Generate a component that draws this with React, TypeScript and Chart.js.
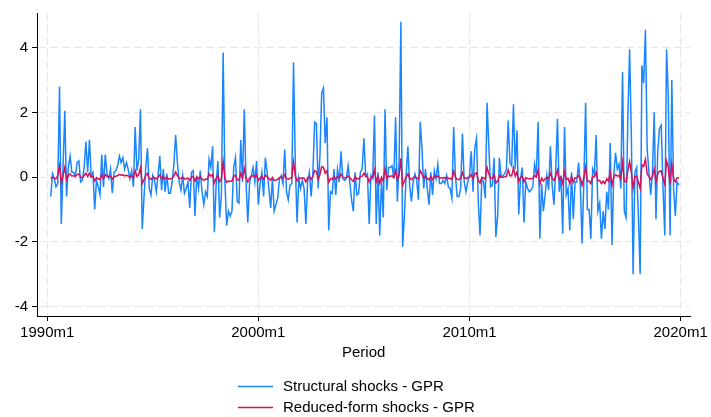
import { useEffect, useRef } from "react";
import { Chart, registerables } from "chart.js";

Chart.register(...registerables);

// Months counted from 1990m1 (= 0); the series start in 1990m3
const startMonth = 2;
const xTickMonths = [0, 120, 240, 360];
const xTickLabels = ["1990m1", "2000m1", "2010m1", "2020m1"];
const yTickValues = [-4, -2, 0, 2, 4];
const seriesNames = ["Structural shocks - GPR", "Reduced-form shocks - GPR"];
const seriesColors = ["#1A85FF", "#D41159"];
const xAxisTitle = "Period";

const structural = [
  // 1990 (Mar-Dec)
  -0.6, 0.1, -0.05, -0.3, -0.2, 2.8, -1.45, 0.3, 2.05, -0.6,
  // 1991
  0.3, 0.65, 0.15, 0.15, 0.05, 0.45, 0.5, -0.15, -0.1, 0.3, 1.1, 0.15,
  // 1992
  1.15, 0.05, 0.15, -1.0, -0.1, -0.3, -0.55, 0.7, -0.3, 0.7, 0.1, -0.05,
  // 1993
  0.25, -0.5, 0.15, 0.2, 0.35, 0.65, 0.45, 0.6, 0.25, 0.45, 0.25, -0.05,
  // 1994
  0.2, -0.3, 1.55, 0.2, 0.55, 2.1, -1.6, -0.65, 0.3, 0.9, -0.35, -0.55,
  // 1995
  0.05, -0.1, -0.45, 0.05, 0.65, -0.4, 0.25, -0.45, 0.1, -0.5, -0.5, -0.15,
  // 1996
  0.4, 1.3, 0.45, -0.15, -0.4, 0.05, -0.5, -0.35, -0.15, -0.95, 0.15, 0.2,
  // 1997
  -1.2, 0.05, -0.35, 0.2, -0.45, -0.85, -0.45, -0.6, 0.55, 0.3, 0.95, -1.7,
  // 1998
  -0.25, 0.5, -1.25, -0.55, 3.85, -0.15, -1.5, -1.05, -1.2, -1.05, 0.3, 0.6,
  // 1999
  -0.75, -0.8, 1.15, -0.15, 2.1, -0.1, -1.4, -0.2, 0.05, 0.3, -0.15, 0.5,
  // 2000
  -0.85, -0.2, 0.15, -0.6, 0.6, 0.15, -0.35, -0.95, -0.05, -1.05, -0.85, -0.65,
  // 2001
  -0.05, 0.05, -0.2, 0.85, -0.45, -0.7, -0.25, -0.2, 3.55, 0.45, -1.4, -0.05,
  // 2002
  -0.35, -0.1, -0.35, -1.45, -0.15, 0.15, -0.6, 0.15, 1.7, 1.65, -0.35, 0.65,
  // 2003
  2.6, 2.75, 1.05, 1.85, -1.65, -0.45, -0.5, 0.25, -0.55, 0.25, -0.15, 0.8,
  // 2004
  -0.05, -0.1, -0.05, 0.35, -0.15, -0.7, -1.05, 0.15, -0.55, -0.5, 0.15, 0.25,
  // 2005
  1.2, 0.05, 0.1, -1.45, 0.05, -0.05, 1.9, -1.45, 0.15, -1.8, -0.05, -1.25,
  // 2006
  2.1, -0.4, 0.3, 0.3, 0.35, -0.05, 1.85, -0.75, 0.45, 4.8, -2.15, -1.2,
  // 2007
  0.05, 0.95, -0.25, -0.75, -0.15, 0.1, -0.1, -0.7, 1.7, 0.9, -0.35, 0.25,
  // 2008
  -0.35, -0.85, 0.15, -0.55, 0.2, -0.05, 0.4, -0.2, -0.2, -0.1, -0.2, 0.05,
  // 2009
  -0.3, -0.35, -0.65, 1.55, 0.05, -0.6, -0.6, -0.35, 1.35, -0.15, -0.45, -0.15,
  // 2010
  0.05, 0.8, -0.45, 0.9, 1.2, -0.75, -1.8, -0.05, -0.15, -0.65, 2.3, 0.95,
  // 2011
  -0.3, -0.25, 0.6, -1.85, -1.2, 0.6, 0.0, 0.05, 0.1, 0.25, 1.75, 0.45,
  // 2012
  0.35, 2.25, 0.25, 1.45, -1.15, -0.05, 0.3, -1.4, -0.15, -0.35, -0.45, -0.4,
  // 2013
  -0.3, 0.4, 0.05, 1.7, -1.9, -0.2, -1.05, -0.55, 0.05, -0.4, 0.95, -0.25,
  // 2014
  -0.85, 0.2, 1.8, -0.45, 0.05, -1.75, 1.55, -0.55, -0.35, -1.65, 0.15, -1.3,
  // 2015
  -0.15, -0.15, 0.45, -0.25, -2.05, -0.15, 2.3, -1.0, -1.0, -1.9, 0.25, 0.1,
  // 2016
  1.3, -1.05, -0.8, -1.9, -1.05, -1.6, -0.45, -1.0, 1.05, -2.1, 0.05, 0.75,
  // 2017
  0.25, 0.4, -0.35, 3.25, -1.05, -1.25, 1.8, 3.95, 1.3, -3.0, 0.15, 0.3,
  // 2018
  -1.2, -3.0, 3.45, 2.9, 4.55, 0.85, 0.15, -0.55, 0.15, 2.0, -1.3, 0.8,
  // 2019
  1.5, 1.6, -0.35, -1.8, 3.95, 2.5, -1.8, 3.0, -0.35, -1.2, -0.15, -0.25,
];

const reducedForm = [
  // 1990 (Mar-Dec)
  -0.05, 0.0, -0.03, -0.05, 0.05, 0.35, -0.18, 0.05, 0.3, -0.08,
  // 1991
  0.05, 0.1, 0.03, 0.05, 0.02, 0.08, 0.1, 0.0, -0.02, 0.05, 0.12, 0.02,
  // 1992
  0.12, 0.0, 0.03, -0.12, -0.02, -0.05, -0.08, 0.08, -0.05, 0.08, 0.02, 0.0,
  // 1993
  0.03, -0.06, 0.02, 0.03, 0.05, 0.08, 0.06, 0.07, 0.04, 0.06, 0.04, 0.0,
  // 1994
  0.03, -0.04, 0.2, 0.02, 0.08, 0.28, -0.2, -0.08, 0.05, 0.12, -0.05, -0.07,
  // 1995
  0.0, -0.02, -0.06, 0.0, 0.07, -0.05, 0.02, -0.06, 0.0, -0.06, -0.06, -0.03,
  // 1996
  0.04, 0.16, 0.05, -0.03, -0.05, 0.0, -0.06, -0.05, -0.03, -0.1, 0.0, 0.02,
  // 1997
  -0.12, 0.0, -0.05, 0.02, -0.06, -0.1, -0.06, -0.07, 0.1, 0.03, 0.08, -0.18,
  // 1998
  -0.04, 0.05, -0.14, -0.06, 0.48, -0.04, -0.16, -0.12, -0.13, -0.12, 0.02, 0.06,
  // 1999
  -0.09, -0.09, 0.12, -0.03, 0.27, -0.02, -0.15, -0.03, 0.02, 0.05, 0.0, 0.06,
  // 2000
  -0.1, -0.03, 0.02, -0.07, 0.06, 0.02, -0.04, -0.1, -0.01, -0.1, -0.09, -0.07,
  // 2001
  -0.02, 0.0, -0.03, 0.08, -0.05, -0.07, -0.03, -0.02, 0.46, 0.04, -0.12, -0.02,
  // 2002
  -0.04, -0.02, -0.04, -0.15, -0.02, 0.02, -0.07, 0.02, 0.2, 0.17, -0.06, 0.08,
  // 2003
  0.32, 0.3, 0.12, 0.2, -0.16, -0.05, -0.06, 0.02, -0.06, 0.02, -0.02, 0.09,
  // 2004
  -0.01, -0.02, -0.01, 0.04, -0.02, -0.08, -0.13, 0.01, -0.06, -0.05, 0.02, 0.03,
  // 2005
  0.12, 0.02, 0.01, -0.15, 0.0, -0.01, 0.22, -0.15, 0.02, -0.19, 0.0, -0.12,
  // 2006
  0.26, -0.04, 0.03, 0.03, 0.04, -0.01, 0.2, -0.08, 0.05, 0.58, -0.26, -0.12,
  // 2007
  0.0, 0.1, -0.03, -0.08, -0.02, 0.01, -0.02, -0.07, 0.2, 0.1, -0.04, 0.02,
  // 2008
  -0.04, -0.09, 0.01, -0.07, 0.03, -0.01, 0.04, -0.03, -0.03, -0.02, -0.03, 0.0,
  // 2009
  -0.04, -0.04, -0.07, 0.18, 0.0, -0.07, -0.07, -0.04, 0.14, -0.02, -0.05, -0.02,
  // 2010
  0.0, 0.08, -0.05, 0.1, 0.13, -0.09, -0.18, -0.01, -0.02, -0.07, 0.3, 0.1,
  // 2011
  -0.04, -0.03, 0.07, -0.18, -0.13, 0.06, 0.0, 0.0, 0.01, 0.03, 0.22, 0.04,
  // 2012
  0.04, 0.28, 0.03, 0.16, -0.14, -0.01, 0.03, -0.15, -0.02, -0.04, -0.05, -0.05,
  // 2013
  -0.04, 0.05, 0.0, 0.22, -0.22, -0.03, -0.12, -0.06, 0.0, -0.05, 0.12, -0.03,
  // 2014
  -0.1, 0.02, 0.22, -0.06, 0.0, -0.2, 0.17, -0.07, -0.04, -0.2, 0.02, -0.15,
  // 2015
  -0.02, -0.02, 0.05, -0.03, -0.25, -0.02, 0.3, -0.12, -0.12, -0.2, 0.03, 0.01,
  // 2016
  0.15, -0.12, -0.1, -0.2, -0.12, -0.2, -0.05, -0.12, 0.14, -0.25, 0.0, 0.08,
  // 2017
  0.03, 0.05, -0.05, 0.45, -0.13, -0.15, 0.2, 0.48, 0.15, -0.35, 0.02, 0.03,
  // 2018
  -0.15, -0.35, 0.38, 0.33, 0.55, 0.1, 0.02, -0.07, 0.02, 0.25, -0.16, 0.1,
  // 2019
  0.18, 0.19, -0.04, -0.22, 0.5, 0.3, -0.22, 0.4, -0.04, -0.15, -0.02, -0.03,
];

const FONT = '"Liberation Sans", Arial, sans-serif';

const legendPlugin = {
  id: "stackedLegend",
  afterDraw(chart: any) {
    const ctx = chart.ctx as CanvasRenderingContext2D;
    ctx.save();
    ctx.font = `15px ${FONT}`;
    ctx.textBaseline = "middle";
    ctx.textAlign = "left";
    const x0 = 238;
    const y0 = 386;
    seriesNames.forEach((name, i) => {
      const y = y0 + i * 21;
      ctx.strokeStyle = seriesColors[i];
      ctx.lineWidth = 1.3;
      ctx.beginPath();
      ctx.moveTo(x0, y + 0.5);
      ctx.lineTo(x0 + 35, y + 0.5);
      ctx.stroke();
      ctx.fillStyle = "#000";
      ctx.fillText(name, x0 + 45, y + 1);
    });
    ctx.restore();
  },
};

export default function App() {
  const canvasRef = useRef<HTMLCanvasElement | null>(null);

  useEffect(() => {
    if (!canvasRef.current) return;
    Chart.defaults.font.family = FONT;
    Chart.defaults.font.size = 15;
    Chart.defaults.color = "#000";

    const toPoints = (vals: number[]) => vals.map((v, i) => ({ x: startMonth + i, y: v }));

    const chart = new Chart(canvasRef.current, {
      type: "line",
      data: {
        datasets: [
          {
            label: seriesNames[0],
            data: toPoints(structural),
            borderColor: seriesColors[0],
            borderWidth: 1.5,
            pointRadius: 0,
            tension: 0,
            order: 2,
          },
          {
            label: seriesNames[1],
            data: toPoints(reducedForm),
            borderColor: seriesColors[1],
            borderWidth: 1.5,
            pointRadius: 0,
            tension: 0,
            order: 1,
          },
        ],
      },
      options: {
        animation: false,
        responsive: false,
        devicePixelRatio: 1,
        layout: { padding: { left: 0, right: 19, top: 12, bottom: 51 } },
        plugins: {
          legend: { display: false },
          tooltip: { enabled: false },
        },
        scales: {
          x: {
            type: "linear",
            min: -5.8,
            max: 365.5,
            afterBuildTicks: (axis: any) => {
              axis.ticks = xTickMonths.map((v) => ({ value: v }));
            },
            afterFit: (axis: any) => {
              axis.height = 50;
            },
            ticks: {
              autoSkip: false,
              maxRotation: 0,
              minRotation: 0,
              padding: 3,
              color: "#000",
              font: { size: 15 },
              callback: (value: any) => {
                const idx = xTickMonths.indexOf(Number(value));
                return idx >= 0 ? xTickLabels[idx] : "";
              },
            },
            grid: {
              color: "#e6e6e6",
              lineWidth: 1,
              tickLength: 5,
              tickColor: "#000",
              tickWidth: 1,
            },
            border: { display: true, color: "#000", width: 1, dash: [8, 4] },
            title: {
              display: true,
              text: xAxisTitle,
              color: "#000",
              font: { size: 15 },
              padding: { top: 4, bottom: 4 },
            },
          },
          y: {
            type: "linear",
            min: -4.29,
            max: 5.07,
            afterBuildTicks: (axis: any) => {
              axis.ticks = yTickValues.map((v) => ({ value: v }));
            },
            afterFit: (axis: any) => {
              axis.width = 37;
            },
            ticks: {
              padding: 4,
              color: "#000",
              font: { size: 15 },
              callback: (value: any) => String(value),
            },
            grid: {
              color: "#e6e6e6",
              lineWidth: 1,
              tickLength: 5,
              tickColor: "#000",
              tickWidth: 1,
            },
            border: { display: true, color: "#000", width: 1, dash: [8, 4] },
          },
        },
      },
      plugins: [legendPlugin],
    });

    return () => chart.destroy();
  }, []);

  return (
    <div style={{ position: "fixed", left: 0, top: 0, width: 711, height: 417, background: "#fff" }}>
      <canvas ref={canvasRef} width={711} height={417} />
    </div>
  );
}
